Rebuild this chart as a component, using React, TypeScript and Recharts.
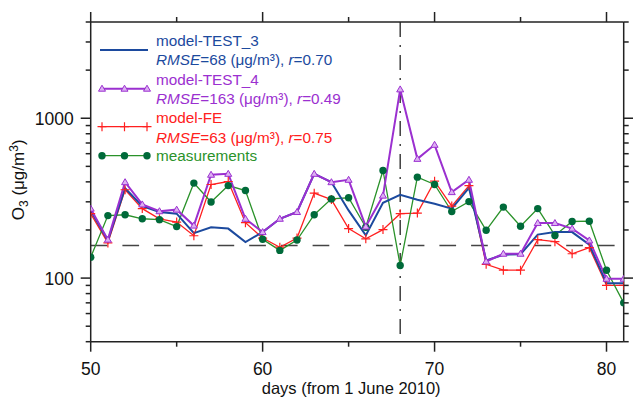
import React from 'react';
import { LineChart, Line, XAxis, YAxis, ReferenceLine } from 'recharts';

// days since 1 June 2010
const days = [50, 51, 52, 53, 54, 55, 56, 57, 58, 59, 60, 61, 62, 63, 64, 65, 66, 67, 68, 69, 70, 71, 72, 73, 74, 75, 76, 77, 78, 79, 80, 81];

// O3 in ug/m3
const test3 = [265, 172, 365, 282, 259, 253, 191, 208, 204, 168, 194, 235, 259, 449, 398, 265, 185, 296, 332, 309, 292, 272, 367, 129, 140, 141, 187, 194, 194, 162, 93, 93];
const test4 = [272, 174, 398, 289, 262, 268, 213, 443, 449, 235, 194, 235, 259, 449, 398, 412, 210, 328, 1515, 557, 682, 345, 412, 127, 142, 142, 221, 221, 204, 172, 99, 99];
const fe = [253, 166, 357, 272, 235, 224, 184, 385, 402, 222, 178, 156, 178, 340, 310, 204, 176, 201, 253, 255, 404, 282, 379, 122, 112, 112, 174, 169, 142, 155, 90, 90];
const measured = [135, 246, 249, 235, 232, 210, 393, 299, 379, 353, 175, 149, 173, 249, 313, 318, 208, 471, 120, 428, 385, 261, 301, 199, 278, 211, 272, 185, 226, 227, 112, 70];

const xTicks = [50, 55, 60, 65, 70, 75, 80];
const xMajor = [50, 60, 70, 80];
const yTicks = [40, 50, 60, 70, 80, 90, 100, 200, 300, 400, 500, 600, 700, 800, 900, 1000, 2000, 3000, 4000];
const yMajor = [100, 1000];

const threshold = 160;
const eventDay = 68;

const data = days.map((d, i) => ({ day: d, test3: test3[i], test4: test4[i], fe: fe[i], obs: measured[i] }));

const FONT = 'Arial, "Liberation Sans", sans-serif';
const AXIS = '#222';
const BLUE = '#1c4a9e';
const PURPLE = '#9b30d0';
const RED = '#ff2020';
const GREEN = '#2a922a';
const GREEN_DOT = '#006a3a';

const tickRenderer = (side: string, majors: number[], showLabel: boolean) => (props: any) => {
  const { x, y, payload, index } = props;
  const v = payload.value;
  const isMajor = majors.includes(v);
  const len = isMajor ? 10 : 5;
  const dx = side === 'left' ? -len : side === 'right' ? len : 0;
  const dy = side === 'bottom' ? len : side === 'top' ? -len : 0;
  let label = null;
  if (showLabel && isMajor) {
    if (side === 'bottom') {
      label = <text x={x} y={y + 33.5} textAnchor="middle" fontSize={17.5} fontFamily={FONT} fill="#111">{v}</text>;
    } else if (side === 'left') {
      label = <text x={x - 17} y={y + 6.5} textAnchor="end" fontSize={17.5} fontFamily={FONT} fill="#111">{v}</text>;
    }
  }
  return (
    <g key={`${side}-${index}`}>
      <line x1={x} y1={y} x2={x + dx} y2={y + dy} stroke={AXIS} strokeWidth={1.5} />
      {label}
    </g>
  );
};

const triangle = (cx: number, cy: number, key?: any) => (
  <polygon key={key} points={`${cx},${cy - 3.5} ${cx - 3.5},${cy + 2.5} ${cx + 3.5},${cy + 2.5}`} fill="#dcb0f2" stroke={PURPLE} strokeWidth={1} />
);
const cross = (cx: number, cy: number, key?: any) => (
  <path key={key} d={`M${cx - 4.5},${cy}H${cx + 4.5}M${cx},${cy - 4.5}V${cy + 4.5}`} stroke={RED} strokeWidth={1.2} fill="none" />
);
const circle = (cx: number, cy: number, key?: any) => (
  <circle key={key} cx={cx} cy={cy} r={3.7} fill={GREEN_DOT} stroke="none" />
);

const TriDot = (p: any) => triangle(p.cx, p.cy, p.index);
const CrossDot = (p: any) => cross(p.cx, p.cy, p.index);
const CircleDot = (p: any) => circle(p.cx, p.cy, p.index);

const xLabel = (props: any) => {
  const vb = props.viewBox;
  return (
    <text x={vb.x + vb.width / 2 - 6} y={393.5} textAnchor="middle" fontSize={16.5} fontFamily={FONT} fill="#111">
      days (from 1 June 2010)
    </text>
  );
};

const yLabel = (props: any) => {
  const vb = props.viewBox;
  const cy = vb.y + vb.height / 2 - 2;
  return (
    <text x={24} y={cy} transform={`rotate(-90, 24, ${cy})`} textAnchor="middle" fontSize={17} fontFamily={FONT} fill="#111">
      O<tspan dy={4} fontSize={12}>3</tspan>
      <tspan dy={-4}>{'  (μg/m'}</tspan>
      <tspan dy={-6} fontSize={12}>3</tspan>
      <tspan dy={6}>)</tspan>
    </text>
  );
};

const LegendOverlay = () => {
  const tx = 156;
  const sx = [102, 124.5, 147];
  const txt = { fontSize: 15.3, fontFamily: FONT };
  return (
    <svg width={633} height={399} style={{ position: 'absolute', left: 0, top: 0, pointerEvents: 'none' }}>
      <line x1={100} x2={148} y1={50} y2={50} stroke={BLUE} strokeWidth={2} />
      <text x={tx} y={46} fill={BLUE} {...txt}>model-TEST_3</text>
      <text x={tx} y={65.3} fill={BLUE} {...txt}><tspan fontStyle="italic">RMSE</tspan>=68 (μg/m³), <tspan fontStyle="italic">r</tspan>=0.70</text>

      <line x1={100} x2={148} y1={88.7} y2={88.7} stroke={PURPLE} strokeWidth={2} />
      {sx.map((x, i) => triangle(x, 88.7, `lt${i}`))}
      <text x={tx} y={84.6} fill={PURPLE} {...txt}>model-TEST_4</text>
      <text x={tx} y={104} fill={PURPLE} {...txt}><tspan fontStyle="italic">RMSE</tspan>=163 (μg/m³), <tspan fontStyle="italic">r</tspan>=0.49</text>

      <line x1={100} x2={148} y1={126.7} y2={126.7} stroke={RED} strokeWidth={1.3} />
      {sx.map((x, i) => cross(x, 126.7, `lc${i}`))}
      <text x={tx} y={123.3} fill={RED} {...txt}>model-FE</text>
      <text x={tx} y={142.6} fill={RED} {...txt}><tspan fontStyle="italic">RMSE</tspan>=63 (μg/m³), <tspan fontStyle="italic">r</tspan>=0.75</text>

      <line x1={100} x2={148} y1={155.7} y2={155.7} stroke={GREEN} strokeWidth={1.3} />
      {sx.map((x, i) => circle(x, 155.7, `lg${i}`))}
      <text x={tx} y={161} fill={GREEN} {...txt}>measurements</text>
    </svg>
  );
};

export default function App() {
  return (
    <div style={{ position: 'absolute', left: 0, top: 0, width: 633, height: 399, background: '#fff' }}>
      <LineChart width={633} height={399} data={data} margin={{ top: 12, right: 0, bottom: 0, left: 0 }}>
        <XAxis
          xAxisId="b"
          dataKey="day"
          type="number"
          domain={[50, 81]}
          allowDataOverflow
          ticks={xTicks}
          interval={0}
          height={57.3}
          tickSize={0}
          tickMargin={0}
          tickLine={false}
          axisLine={{ stroke: AXIS, strokeWidth: 1.5 }}
          tick={tickRenderer('bottom', xMajor, true)}
          label={xLabel}
        />
        <XAxis
          xAxisId="t"
          orientation="top"
          dataKey="day"
          type="number"
          domain={[50, 81]}
          allowDataOverflow
          ticks={xTicks}
          interval={0}
          height={10}
          tickSize={0}
          tickMargin={0}
          tickLine={false}
          axisLine={{ stroke: AXIS, strokeWidth: 1.5 }}
          tick={tickRenderer('top', xMajor, false)}
        />
        <YAxis
          yAxisId="l"
          scale="log"
          type="number"
          domain={[40, 4000]}
          allowDataOverflow
          ticks={yTicks}
          interval={0}
          width={90.7}
          tickSize={0}
          tickMargin={0}
          tickLine={false}
          axisLine={{ stroke: AXIS, strokeWidth: 1.5 }}
          tick={tickRenderer('left', yMajor, true)}
          label={yLabel}
        />
        <YAxis
          yAxisId="r"
          orientation="right"
          scale="log"
          type="number"
          domain={[40, 4000]}
          allowDataOverflow
          ticks={yTicks}
          interval={0}
          width={9.3}
          tickSize={0}
          tickMargin={0}
          tickLine={false}
          axisLine={{ stroke: AXIS, strokeWidth: 1.5 }}
          tick={tickRenderer('right', yMajor, false)}
        />
        <ReferenceLine xAxisId="b" yAxisId="l" y={threshold} stroke="#444" strokeWidth={1.5} strokeDasharray="16.7 15" />
        <ReferenceLine
          xAxisId="b"
          yAxisId="l"
          segment={[{ x: eventDay, y: 4000 }, { x: eventDay, y: 40 }]}
          stroke="#222"
          strokeWidth={1.3}
          strokeDasharray="15 8 2 8"
        />
        <Line xAxisId="b" yAxisId="l" dataKey="fe" type="linear" stroke={RED} strokeWidth={1.3} dot={CrossDot} activeDot={false} isAnimationActive={false} />
        <Line xAxisId="b" yAxisId="l" dataKey="obs" type="linear" stroke={GREEN} strokeWidth={1.3} dot={CircleDot} activeDot={false} isAnimationActive={false} />
        <Line xAxisId="b" yAxisId="l" dataKey="test3" type="linear" stroke={BLUE} strokeWidth={2} dot={false} activeDot={false} isAnimationActive={false} />
        <Line xAxisId="b" yAxisId="l" dataKey="test4" type="linear" stroke={PURPLE} strokeWidth={2} dot={TriDot} activeDot={false} isAnimationActive={false} />
      </LineChart>
      <LegendOverlay />
    </div>
  );
}
